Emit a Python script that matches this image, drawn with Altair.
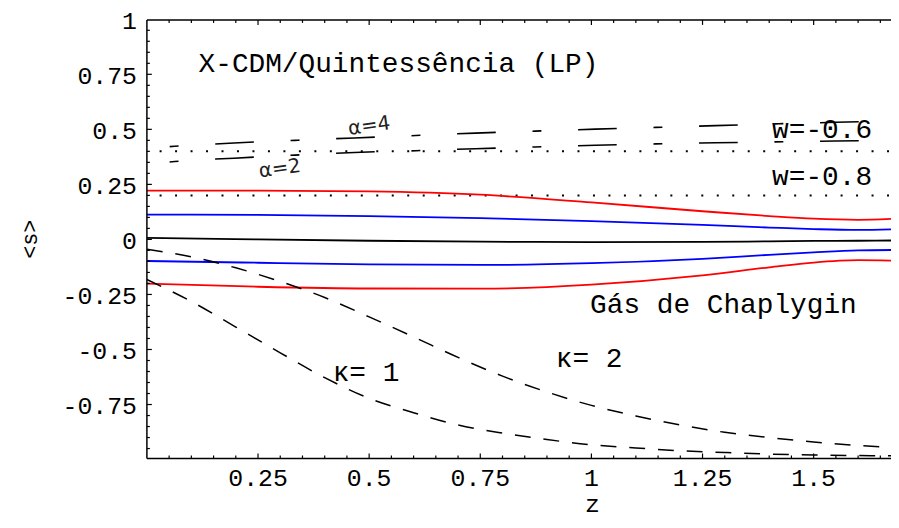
import altair as alt
import pandas as pd

# ---------------- data ----------------
z_solid = [0, 0.25, 0.5, 0.75, 1.0, 1.25, 1.4, 1.5, 1.6, 1.674]
red_upper = [0.222, 0.222, 0.218, 0.203, 0.168, 0.128, 0.106, 0.094, 0.089, 0.093]
blue_upper = [0.113, 0.111, 0.106, 0.097, 0.083, 0.066, 0.054, 0.047, 0.043, 0.046]
black_mid = [0.007, 0.0, -0.006, -0.010, -0.012, -0.011, -0.009, -0.007, -0.006, -0.005]
blue_lower = [-0.098, -0.106, -0.113, -0.116, -0.108, -0.088, -0.070, -0.059, -0.050, -0.048]
red_lower = [-0.201, -0.215, -0.223, -0.224, -0.205, -0.163, -0.127, -0.105, -0.094, -0.096]

z_kappa = [0, 0.1, 0.2, 0.3, 0.4, 0.5, 0.6, 0.7, 0.8, 0.9, 1.0, 1.1, 1.2, 1.3, 1.4, 1.5, 1.6, 1.674]
kappa1 = [-0.182, -0.282, -0.398, -0.515, -0.628, -0.722, -0.787, -0.843, -0.880, -0.909,
          -0.933, -0.947, -0.960, -0.968, -0.975, -0.979, -0.982, -0.983]
kappa2 = [-0.045, -0.079, -0.129, -0.191, -0.264, -0.352, -0.443, -0.536, -0.621, -0.693,
          -0.754, -0.802, -0.843, -0.876, -0.900, -0.920, -0.936, -0.945]

z_alpha = [0, 0.0625, 0.196, 0.333, 0.467, 0.605, 0.739, 0.873, 1.009, 1.145, 1.279, 1.414, 1.55, 1.674]
alpha2 = [0.342, 0.354, 0.369, 0.383, 0.395, 0.403, 0.412, 0.420, 0.428, 0.434, 0.439, 0.443, 0.447, 0.450]
alpha4 = [0.415, 0.423, 0.438, 0.450, 0.461, 0.472, 0.483, 0.492, 0.501, 0.509, 0.517, 0.525, 0.532, 0.538]

w_levels = [0.4, 0.2]

x_tick_values = [0.25, 0.5, 0.75, 1, 1.25, 1.5]
x_tick_text = ["0.25", "0.5", "0.75", "1", "1.25", "1.5"]
y_tick_values = [1, 0.75, 0.5, 0.25, 0, -0.25, -0.5, -0.75]
y_tick_text = ["1", "0.75", "0.5", "0.25", "0", "-0.25", "-0.5", "-0.75"]

x_major = [0.25, 0.5, 0.75, 1.0, 1.25, 1.5]
x_minor = [round(0.05 * i, 2) for i in range(1, 34) if i % 5 != 0]
y_major = [0.75, 0.5, 0.25, 0.0, -0.25, -0.5, -0.75]
y_minor = [round(0.05 * i, 2) for i in range(-19, 20) if i % 5 != 0]

mono_labels = ["X-CDM/Quintessência (LP)", "w=-0.6", "w=-0.8", "Gás de Chaplygin", "κ= 2", "κ= 1"]
mono_z = [0.566, 1.519, 1.519, 1.297, 0.995, 0.493]
mono_s = [0.798, 0.497, 0.285, -0.297, -0.542, -0.605]

alpha_labels = ["α=2", "α=4"]
alpha_z = [0.299, 0.5]
alpha_s = [0.321, 0.515]

x_title = "z"
y_title = "<s>"

# ---------------- layout ----------------
W, H = 750, 442
MONO = "Liberation Mono"

xs = alt.Scale(domain=[0, 1.674], nice=False, zero=False)
ys = alt.Scale(domain=[-0.995, 0.997], nice=False, zero=False)

solid_rows = []
for name, col, vals in [("ru", "#ff0000", red_upper), ("bu", "#0000ff", blue_upper),
                        ("k", "#000000", black_mid), ("bl", "#0000ff", blue_lower),
                        ("rl", "#ff0000", red_lower)]:
    for z, s in zip(z_solid, vals):
        solid_rows.append({"z": z, "s": s, "series": name, "col": col})
solid_df = pd.DataFrame(solid_rows)

kappa_df = pd.DataFrame(
    [{"z": z, "s": s, "series": "k1"} for z, s in zip(z_kappa, kappa1)]
    + [{"z": z, "s": s, "series": "k2"} for z, s in zip(z_kappa, kappa2)]
)
alpha_df = pd.DataFrame(
    [{"z": z, "s": s, "series": "a2"} for z, s in zip(z_alpha, alpha2)]
    + [{"z": z, "s": s, "series": "a4"} for z, s in zip(z_alpha, alpha4)]
)
w_df = pd.DataFrame({"s": w_levels})

X = alt.X("z:Q", scale=xs, axis=None)
Y = alt.Y("s:Q", scale=ys, axis=None)

solid = alt.Chart(solid_df).mark_line(strokeWidth=1.8, interpolate="monotone", clip=True).encode(
    x=X, y=Y, color=alt.Color("col:N", scale=None), detail="series:N",
)

kappa = alt.Chart(kappa_df).mark_line(strokeWidth=1.5, color="black", strokeDash=[16, 13],
                                      interpolate="monotone", clip=True).encode(
    x=X, y=Y, detail="series:N",
)

alpha = alt.Chart(alpha_df).mark_line(strokeWidth=1.6, color="black", strokeDash=[39, 37, 9, 37],
                                      strokeDashOffset=53, interpolate="monotone", clip=True).encode(
    x=X, y=Y, detail="series:N",
)

wlines = alt.Chart(w_df).mark_rule(color="black", strokeWidth=2, strokeDash=[2, 13.6],
                                   strokeDashOffset=13.6).encode(y=Y)

# inward ticks
def tick_rules(vals, side, length):
    df = pd.DataFrame({"t": vals})
    base = alt.Chart(df).mark_rule(color="black", strokeWidth=1.2)
    if side == "bottom":
        return base.encode(x=alt.X("t:Q", scale=xs, axis=None), y=alt.value(H), y2=alt.value(H - length))
    if side == "top":
        return base.encode(x=alt.X("t:Q", scale=xs, axis=None), y=alt.value(0), y2=alt.value(length))
    return base.encode(y=alt.Y("t:Q", scale=ys, axis=None), x=alt.value(0), x2=alt.value(length))

ticks = [
    tick_rules(x_major, "bottom", 5), tick_rules(x_minor, "bottom", 3),
    tick_rules(x_major, "top", 5), tick_rules(x_minor, "top", 3),
    tick_rules(y_major, "left", 5), tick_rules(y_minor, "left", 3),
]

one = pd.DataFrame({"a": [0]})
frame = [
    alt.Chart(one).mark_rule(color="black", strokeWidth=1.5).encode(
        x=alt.value(0), x2=alt.value(W), y=alt.value(0)),
    alt.Chart(one).mark_rule(color="black", strokeWidth=1.5).encode(
        x=alt.value(0), x2=alt.value(W), y=alt.value(H)),
    alt.Chart(one).mark_rule(color="black", strokeWidth=1.5).encode(
        x=alt.value(0), y=alt.value(0), y2=alt.value(H)),
]

# tick labels (through the scales)
xlab = alt.Chart(pd.DataFrame({"t": x_tick_values, "label": x_tick_text})).mark_text(
    font=MONO, fontSize=25, color="black", align="center", baseline="top"
).encode(x=alt.X("t:Q", scale=xs, axis=None), y=alt.value(H + 8), text="label:N")

ylab = alt.Chart(pd.DataFrame({"t": y_tick_values, "label": y_tick_text})).mark_text(
    font=MONO, fontSize=25, color="black", align="right", baseline="middle", dy=2
).encode(y=alt.Y("t:Q", scale=ys, axis=None), x=alt.value(-10), text="label:N")

xtitle = alt.Chart(pd.DataFrame({"label": [x_title]})).mark_text(
    font=MONO, fontSize=25, color="black", align="center", baseline="alphabetic"
).encode(x=alt.value(449), y=alt.value(496), text="label:N")

ytitle = alt.Chart(pd.DataFrame({"label": [y_title]})).mark_text(
    font=MONO, fontSize=22, color="black", align="center", baseline="middle", angle=270
).encode(x=alt.value(-118), y=alt.value(H / 2), text="label:N")


def text_layer(labels, zz, ss, **kw):
    df = pd.DataFrame({"label": labels, "z": zz, "s": ss})
    return alt.Chart(df).mark_text(**kw).encode(x=X, y=Y, text="label:N")

mono_text = text_layer(mono_labels, mono_z, mono_s, font=MONO, fontSize=28, color="black",
                       align="center", baseline="middle")
alpha_text = text_layer(alpha_labels, alpha_z, alpha_s, font="DejaVu Sans", fontSize=20,
                        color="#222222", align="center", baseline="middle", angle=352)

chart = alt.layer(
    wlines, solid, kappa, alpha, *frame, *ticks, xlab, ylab, xtitle, ytitle,
    mono_text, alpha_text
).properties(
    width=W, height=H,
    padding={"left": 140, "top": 10, "right": 0, "bottom": 60},
    autosize=alt.AutoSizeParams(type="none"),
).configure_view(stroke=None)

chart.save("out.html", embed_options={"renderer": "svg", "actions": False})
